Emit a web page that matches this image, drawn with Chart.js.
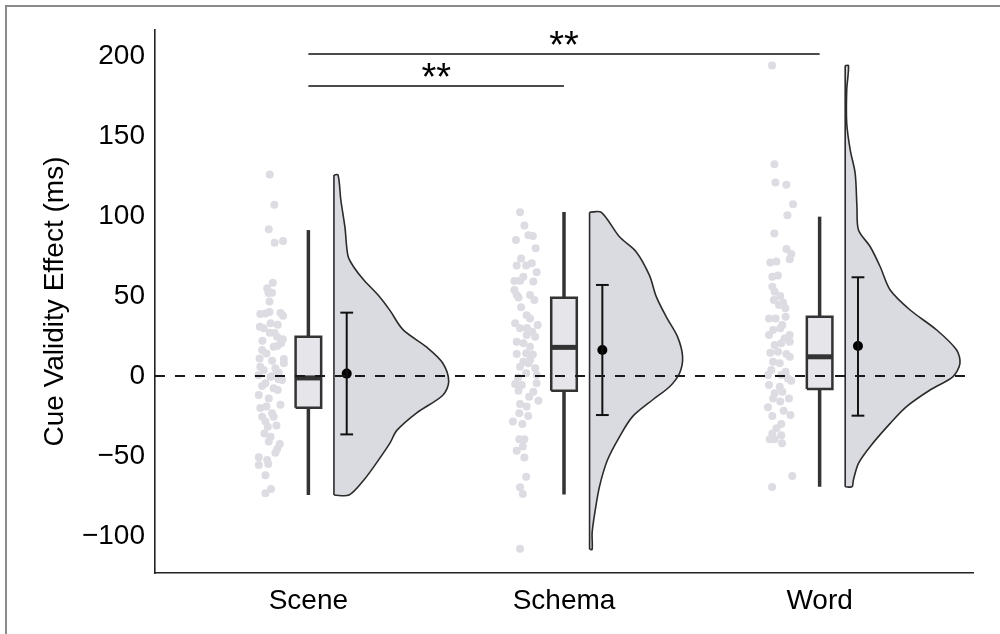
<!DOCTYPE html>
<html lang="en">
<head>
<meta charset="UTF-8">
<title>Cue Validity Effect</title>
<script src="https://cdn.jsdelivr.net/npm/chart.js"></script>
<style>
    html, body { margin: 0; padding: 0; overflow: hidden; background: #fff; }
    #wrap { position: relative; width: 1000px; height: 634px; }
    #frame { position: absolute; left: 5px; top: 5px; width: 1100px; height: 800px; border: 2px solid #8a8a8a; box-sizing: border-box; }
    #chartBox { position: absolute; left: 0; top: 0; width: 1000px; height: 634px; }
</style>
</head>
<body>
<div id="wrap">
    <div id="frame"></div>
    <div id="chartBox"><canvas id="raincloud"></canvas></div>
</div>
<script>
    // groups and axis ticks
    const categories = ['Scene', 'Schema', 'Word'];
    const yTicks = [-100, -50, 0, 50, 100, 150, 200];

    // box plot stats: [lower whisker, Q1, median, Q3, upper whisker]
    const sceneBox = [-74.4, -19.8, -1.2, 24.6, 91.2];
    const schemaBox = [-74, -9.2, 17.9, 48.9, 102.5];
    const wordBox = [-69.2, -8.1, 12, 37, 99.6];

    // mean and error bar [low, mean, high]
    const sceneMean = [-36.5, 1.5, 39.6];
    const schemaMean = [-24.4, 16.2, 56.9];
    const wordMean = [-24.8, 18.7, 61.7];

    // half violin outline: values and widths (x units)
    const sceneViolinY = [125.6, 110, 93, 75, 68, 60, 50, 41, 29, 18, 8, -3.5, -12, -23, -34, -42, -54, -65, -74.4];
    const sceneViolinW = [0.016, 0.027, 0.043, 0.055, 0.078, 0.117, 0.176, 0.219, 0.27, 0.363, 0.426, 0.449, 0.426, 0.324, 0.246, 0.219, 0.168, 0.117, 0.059];
    const schemaViolinY = [102.3, 87, 77.7, 63, 49.6, 37, 24.6, 12, 1.7, -6.7, -15, -25.4, -38, -52.5, -69, -86, -98, -108.3];
    const schemaViolinW = [0.046, 0.117, 0.182, 0.234, 0.261, 0.3, 0.344, 0.364, 0.352, 0.313, 0.246, 0.168, 0.117, 0.07, 0.039, 0.02, 0.01, 0.01];
    const wordViolinY = [194, 178.7, 158, 141, 126.7, 105.8, 91.25, 80.8, 68.3, 53.75, 41.25, 28.75, 16.25, 7.9, -0.4, -8.75, -19, -29.6, -44, -54.6, -65, -69.2];
    const wordViolinW = [0.013, 0.006, 0.006, 0.02, 0.039, 0.046, 0.052, 0.098, 0.137, 0.176, 0.254, 0.358, 0.436, 0.449, 0.422, 0.332, 0.241, 0.176, 0.098, 0.052, 0.032, 0.027];

    // raw participant points (value, jitter offset in x units)
    const sceneVals = [126, 107, 91.7, 83.3, 84.4, 58.3, 54.8, 51.8, 52, 46.5, 39, 38.7, 40, 39.4, 37.7, 32, 30.8, 29.8, 27, 26.9, 24.6, 22.9, 20.4, 18.3, 18.8, 16.3, 10.6, 8, 11, 9.6, 5.8, 3.75, 4.8, 2, -0.4, -2.5, -4.6, -6.3, -7.7, -8.75, -11.9, -14, -18, -19, -20, -23.3, -25.4, -25.4, -28.5, -31.7, -38, -41, -42.5, -45.6, -48, -50.8, -52.5, -55, -55.6, -62, -70.6, -73.3, 14, 0, 0.5, -2, 22, 33, -36, -31];
    const sceneJit = [-0.151, -0.133, -0.155, -0.132, -0.099, -0.139, -0.161, -0.156, -0.142, -0.152, -0.168, -0.188, -0.152, -0.109, -0.099, -0.12, -0.19, -0.175, -0.151, -0.132, -0.122, -0.1, -0.107, -0.136, -0.122, -0.181, -0.096, -0.096, -0.191, -0.142, -0.188, -0.175, -0.129, -0.116, -0.148, -0.103, -0.168, -0.181, -0.136, -0.12, -0.194, -0.155, -0.109, -0.164, -0.188, -0.142, -0.181, -0.136, -0.168, -0.159, -0.148, -0.155, -0.112, -0.122, -0.129, -0.194, -0.161, -0.157, -0.194, -0.168, -0.146, -0.168, -0.164, -0.14, -0.195, -0.117, -0.18, -0.148, -0.172, -0.125];
    const schemaVals = [102.3, 94, 88, 87.5, 85, 79.8, 73.5, 70.4, 69, 69, 64.8, 62, 59.5, 59.4, 59, 53.8, 50.6, 50.6, 47.5, 49, 38, 36, 31.9, 33, 29.8, 27.7, 25.6, 24.6, 21.4, 20.4, 18.3, 14.2, 13.5, 13.75, 8.9, 7.9, 5.8, 4.8, 1.7, 0.6, -5, -5.6, -4.6, -9.2, -9.8, -12.9, -15.4, -17.5, -19, -23.3, -28.5, -30, -39.6, -39.6, -46.7, -44, -51, -63, -69.6, -73.8, -108, 30, 43, 10, -1, -25];
    const schemaJit = [-0.172, -0.155, -0.139, -0.122, -0.188, -0.111, -0.168, -0.126, -0.185, -0.148, -0.107, -0.159, -0.172, -0.194, -0.12, -0.194, -0.185, -0.133, -0.116, -0.178, -0.146, -0.133, -0.103, -0.191, -0.172, -0.124, -0.146, -0.113, -0.185, -0.159, -0.133, -0.148, -0.122, -0.185, -0.159, -0.139, -0.172, -0.113, -0.148, -0.107, -0.191, -0.165, -0.107, -0.178, -0.12, -0.136, -0.1, -0.172, -0.146, -0.175, -0.2, -0.163, -0.175, -0.155, -0.185, -0.161, -0.155, -0.148, -0.172, -0.161, -0.172, -0.145, -0.168, -0.133, -0.18, -0.14];
    const wordVals = [194, 132.3, 121, 119.6, 107.3, 100.4, 89, 79.4, 76.25, 73, 71, 71.5, 62, 62.8, 55.8, 52.7, 50, 47.5, 46, 44.4, 42.3, 36, 36, 37, 31.9, 28.75, 29.8, 25.6, 25.6, 23.5, 19.4, 20.4, 21.4, 14.6, 15.2, 13.75, 12, 8.9, 7.9, 3.75, 2.7, 0.6, 0.6, -1.5, -2.9, -5.6, -6.7, -10.8, -9.8, -14, -14, -16, -19.6, -21.7, -25, -24.4, -30, -32.7, -36, -37, -39.6, -39.6, -42, -62.5, -69.4];
    const wordJit = [-0.186, -0.177, -0.173, -0.13, -0.104, -0.126, -0.177, -0.13, -0.111, -0.117, -0.193, -0.169, -0.185, -0.163, -0.185, -0.176, -0.154, -0.179, -0.143, -0.159, -0.134, -0.198, -0.172, -0.133, -0.146, -0.182, -0.154, -0.198, -0.117, -0.137, -0.176, -0.15, -0.117, -0.193, -0.163, -0.13, -0.117, -0.182, -0.156, -0.189, -0.133, -0.202, -0.15, -0.124, -0.111, -0.198, -0.156, -0.176, -0.146, -0.182, -0.12, -0.154, -0.202, -0.141, -0.185, -0.114, -0.15, -0.169, -0.185, -0.15, -0.195, -0.176, -0.147, -0.107, -0.186];

    // significance brackets: [from group, to group, height, label]
    const sigBars = [[1, 2, 181.25, '**'], [1, 3, 201.25, '**']];

    const groups = [
        {box: sceneBox, mean: sceneMean, vy: sceneViolinY, vw: sceneViolinW, vals: sceneVals, jit: sceneJit},
        {box: schemaBox, mean: schemaMean, vy: schemaViolinY, vw: schemaViolinW, vals: schemaVals, jit: schemaJit},
        {box: wordBox, mean: wordMean, vy: wordViolinY, vw: wordViolinW, vals: wordVals, jit: wordJit}
    ];

    const DARK = '#333333';
    const boxHalf = 0.05;
    const violinOffset = 0.1;
    const meanOffset = 0.15;
    const capHalf = 0.025;

    function seg(points, color, width, order, extra) {
        return Object.assign({
            data: points,
            showLine: true,
            borderColor: color,
            borderWidth: width,
            pointRadius: 0,
            pointHoverRadius: 0,
            fill: false,
            tension: 0,
            order: order
        }, extra || {});
    }

    const datasets = [];

    // dashed zero reference line (on top)
    datasets.push(seg([{x: 0.4, y: 0}, {x: 3.6, y: 0}], '#1a1a1a', 2, 0, {borderDash: [10, 10]}));

    groups.forEach((g, i) => {
        const c = i + 1;

        // raw points
        datasets.push({
            data: g.vals.map((v, k) => ({x: c + g.jit[k], y: v})),
            showLine: false,
            pointRadius: 4,
            pointBackgroundColor: '#dcdce2',
            pointBorderWidth: 0,
            order: 9
        });

        // half violin
        const base = c + violinOffset;
        const outline = [{x: base, y: g.vy[0]}];
        g.vy.forEach((v, k) => outline.push({x: base + g.vw[k], y: v}));
        outline.push({x: base, y: g.vy[g.vy.length - 1]});
        datasets.push(seg(outline, '#2b2b2b', 1.6, 6, {fill: 'shape', backgroundColor: '#dadbe0', tension: 0.3}));
        datasets.push(seg([{x: base, y: g.vy[0]}, {x: base, y: g.vy[g.vy.length - 1]}], '#2b2b2b', 1.6, 5));

        // box plot
        const [lo, q1, med, q3, hi] = g.box;
        datasets.push(seg([{x: c, y: q3}, {x: c, y: hi}], DARK, 3.5, 4));
        datasets.push(seg([{x: c, y: q1}, {x: c, y: lo}], DARK, 3.5, 4));
        datasets.push(seg([
            {x: c - boxHalf, y: q1}, {x: c + boxHalf, y: q1}, {x: c + boxHalf, y: q3},
            {x: c - boxHalf, y: q3}, {x: c - boxHalf, y: q1}
        ], DARK, 2.5, 3, {fill: 'shape', backgroundColor: '#e5e5ea'}));
        datasets.push(seg([{x: c - boxHalf, y: med}, {x: c + boxHalf, y: med}], DARK, 5, 2));

        // mean and error bar
        const mx = c + meanOffset;
        const [elo, m, ehi] = g.mean;
        datasets.push(seg([{x: mx, y: elo}, {x: mx, y: ehi}], '#111111', 2, 1));
        datasets.push(seg([{x: mx - capHalf, y: ehi}, {x: mx + capHalf, y: ehi}], '#111111', 2, 1));
        datasets.push(seg([{x: mx - capHalf, y: elo}, {x: mx + capHalf, y: elo}], '#111111', 2, 1));
        datasets.push({
            data: [{x: mx, y: m}],
            showLine: false,
            pointRadius: 5,
            pointBackgroundColor: '#000000',
            pointBorderWidth: 0,
            order: 1
        });
    });

    // significance bars
    sigBars.forEach(([a, b, h]) => {
        datasets.push(seg([{x: a, y: h}, {x: b, y: h}], '#111111', 1.6, 1));
    });

    const sigLabels = {
        id: 'sigLabels',
        afterDatasetsDraw(chart) {
            const {ctx, scales: {x, y}} = chart;
            ctx.save();
            ctx.fillStyle = '#000';
            ctx.font = '38px "Liberation Sans", Arial, sans-serif';
            ctx.textAlign = 'center';
            ctx.textBaseline = 'alphabetic';
            sigBars.forEach(([a, b, h, label]) => {
                ctx.fillText(label, x.getPixelForValue((a + b) / 2), y.getPixelForValue(h) + 4);
            });
            ctx.restore();
        }
    };

    const font = {family: '"Liberation Sans", Arial, sans-serif', size: 28};

    new Chart(document.getElementById('raincloud'), {
        type: 'scatter',
        data: {datasets: datasets},
        options: {
            responsive: true,
            maintainAspectRatio: false,
            animation: false,
            layout: {padding: {left: 0, top: 30, right: 27, bottom: 0}},
            plugins: {legend: {display: false}, tooltip: {enabled: false}},
            scales: {
                x: {
                    type: 'linear',
                    min: 0.4,
                    max: 3.6,
                    grid: {display: false, drawTicks: false},
                    border: {display: true, color: '#222', width: 1.6},
                    afterBuildTicks: (s) => { s.ticks = categories.map((_, k) => ({value: k + 1})); },
                    afterFit: (s) => { s.height = 61; },
                    ticks: {
                        color: '#000',
                        font: font,
                        padding: 11,
                        maxRotation: 0,
                        autoSkip: false,
                        callback: (v) => categories[v - 1]
                    }
                },
                y: {
                    min: -123.125,
                    max: 216.25,
                    grid: {display: false, drawTicks: false},
                    border: {display: true, color: '#222', width: 1.6},
                    afterBuildTicks: (s) => { s.ticks = yTicks.map(v => ({value: v})); },
                    afterFit: (s) => { s.width = 155; },
                    ticks: {
                        color: '#000',
                        font: font,
                        padding: 10,
                        autoSkip: false,
                        callback: (v) => String(v).replace('-', '\u2212')
                    },
                    title: {
                        display: true,
                        text: 'Cue Validity Effect (ms)',
                        color: '#000',
                        font: font,
                        padding: {top: 38, bottom: 0}
                    }
                }
            }
        },
        plugins: [sigLabels]
    });
</script>
</body>
</html>
